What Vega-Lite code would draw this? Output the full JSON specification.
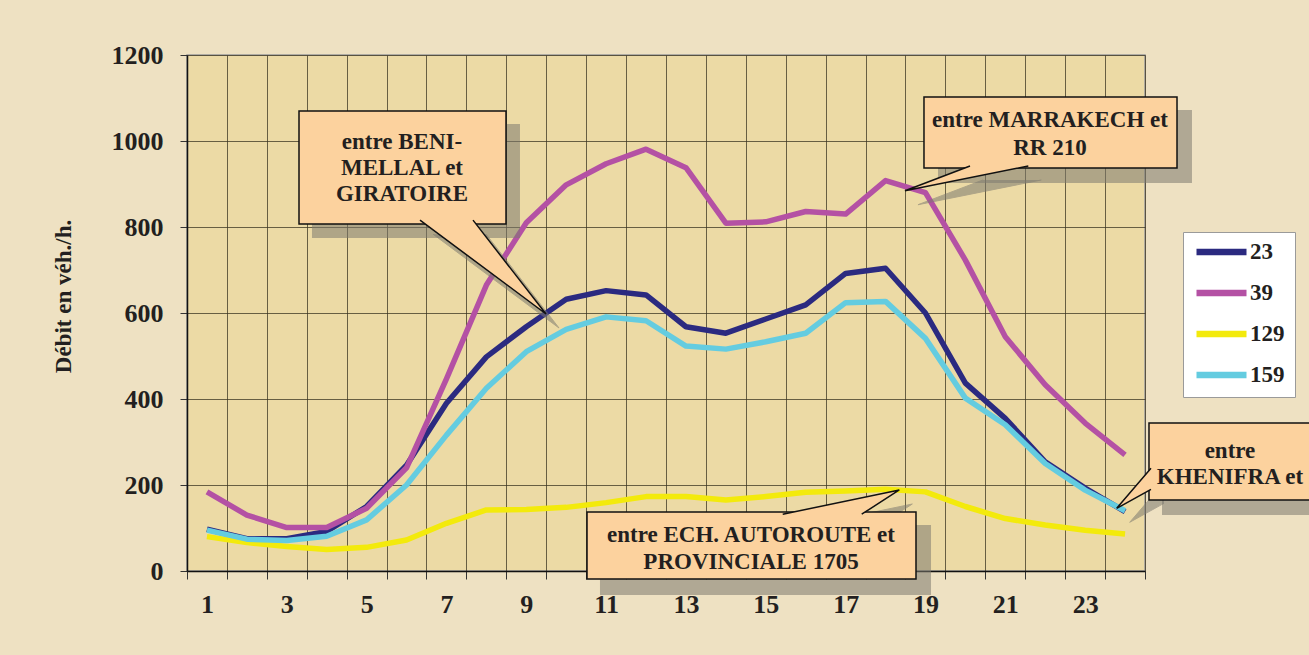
{
  "$schema": "https://vega.github.io/schema/vega-lite/v6.json",
  "width": 958,
  "height": 516,
  "autosize": {"type": "none"},
  "padding": {"left": 187, "top": 55, "right": 164, "bottom": 84},
  "background": "#EEE1C2",
  "config": {
    "view": {"fill": "#ECDAA5", "stroke": "#9a9a9a", "strokeWidth": 1.5},
    "font": "Liberation Serif",
    "text": {"font": "Liberation Serif"}
  },
  "datasets": {
    "flows": [
      {"h":1,"s":"23","v":97},{"h":2,"s":"23","v":75},{"h":3,"s":"23","v":75},{"h":4,"s":"23","v":92},{"h":5,"s":"23","v":150},{"h":6,"s":"23","v":246},{"h":7,"s":"23","v":390},{"h":8,"s":"23","v":498},{"h":9,"s":"23","v":568},{"h":10,"s":"23","v":632},{"h":11,"s":"23","v":652},{"h":12,"s":"23","v":642},{"h":13,"s":"23","v":568},{"h":14,"s":"23","v":553},{"h":15,"s":"23","v":586},{"h":16,"s":"23","v":619},{"h":17,"s":"23","v":692},{"h":18,"s":"23","v":704},{"h":19,"s":"23","v":600},{"h":20,"s":"23","v":437},{"h":21,"s":"23","v":355},{"h":22,"s":"23","v":254},{"h":23,"s":"23","v":193},{"h":24,"s":"23","v":138},
      {"h":1,"s":"39","v":184},{"h":2,"s":"39","v":130},{"h":3,"s":"39","v":101},{"h":4,"s":"39","v":101},{"h":5,"s":"39","v":146},{"h":6,"s":"39","v":240},{"h":7,"s":"39","v":447},{"h":8,"s":"39","v":665},{"h":9,"s":"39","v":810},{"h":10,"s":"39","v":898},{"h":11,"s":"39","v":947},{"h":12,"s":"39","v":981},{"h":13,"s":"39","v":938},{"h":14,"s":"39","v":809},{"h":15,"s":"39","v":812},{"h":16,"s":"39","v":836},{"h":17,"s":"39","v":830},{"h":18,"s":"39","v":908},{"h":19,"s":"39","v":880},{"h":20,"s":"39","v":723},{"h":21,"s":"39","v":545},{"h":22,"s":"39","v":433},{"h":23,"s":"39","v":344},{"h":24,"s":"39","v":270},
      {"h":1,"s":"129","v":80},{"h":2,"s":"129","v":66},{"h":3,"s":"129","v":57},{"h":4,"s":"129","v":50},{"h":5,"s":"129","v":55},{"h":6,"s":"129","v":72},{"h":7,"s":"129","v":111},{"h":8,"s":"129","v":142},{"h":9,"s":"129","v":143},{"h":10,"s":"129","v":148},{"h":11,"s":"129","v":159},{"h":12,"s":"129","v":173},{"h":13,"s":"129","v":173},{"h":14,"s":"129","v":165},{"h":15,"s":"129","v":173},{"h":16,"s":"129","v":183},{"h":17,"s":"129","v":186},{"h":18,"s":"129","v":190},{"h":19,"s":"129","v":184},{"h":20,"s":"129","v":150},{"h":21,"s":"129","v":122},{"h":22,"s":"129","v":107},{"h":23,"s":"129","v":95},{"h":24,"s":"129","v":86},
      {"h":1,"s":"159","v":95},{"h":2,"s":"159","v":74},{"h":3,"s":"159","v":71},{"h":4,"s":"159","v":81},{"h":5,"s":"159","v":119},{"h":6,"s":"159","v":200},{"h":7,"s":"159","v":316},{"h":8,"s":"159","v":425},{"h":9,"s":"159","v":510},{"h":10,"s":"159","v":562},{"h":11,"s":"159","v":591},{"h":12,"s":"159","v":582},{"h":13,"s":"159","v":523},{"h":14,"s":"159","v":516},{"h":15,"s":"159","v":533},{"h":16,"s":"159","v":553},{"h":17,"s":"159","v":624},{"h":18,"s":"159","v":627},{"h":19,"s":"159","v":541},{"h":20,"s":"159","v":402},{"h":21,"s":"159","v":340},{"h":22,"s":"159","v":250},{"h":23,"s":"159","v":188},{"h":24,"s":"159","v":140}
    ],
    "shadows": [
      {"b":"beni","x1":3.631,"x2":8.842,"y1":1039.5,"y2":774.4},
      {"b":"marr","x1":19.314,"x2":25.677,"y1":1072.1,"y2":902.3},
      {"b":"ech","x1":10.846,"x2":19.139,"y1":107.0,"y2":-55.8},
      {"b":"khen","x1":24.926,"x2":29.009,"y1":314.0,"y2":130.2}
    ],
    "boxes": [
      {"b":"beni","x1":3.306,"x2":8.492,"y1":1069.8,"y2":807.0},
      {"b":"marr","x1":18.963,"x2":25.302,"y1":1102.3,"y2":937.2},
      {"b":"ech","x1":10.521,"x2":18.763,"y1":137.2,"y2":-18.6},
      {"b":"khen","x1":24.6,"x2":28.683,"y1":344.2,"y2":165.1}
    ],
    "pointers": [
      {"p":"beni","i":1,"ax":6.337,"ay":816},{"p":"beni","i":2,"ax":9.494,"ay":597.7},{"p":"beni","i":3,"ax":7.665,"ay":816},
      {"p":"marr","i":1,"ax":20.116,"ay":942},{"p":"marr","i":2,"ax":18.487,"ay":884.4},{"p":"marr","i":3,"ax":21.577,"ay":942},
      {"p":"ech","i":1,"ax":15.424,"ay":132},{"p":"ech","i":2,"ax":18.345,"ay":188.4},{"p":"ech","i":3,"ax":17.403,"ay":132},
      {"p":"khen","i":1,"ax":24.65,"ay":238.8},{"p":"khen","i":2,"ax":23.791,"ay":145.8},{"p":"khen","i":3,"ax":24.65,"ay":190.0}
    ],
    "pshadows": [
      {"p":"beni","i":1,"ax":6.663,"ay":783.4},{"p":"beni","i":2,"ax":9.82,"ay":565.1},{"p":"beni","i":3,"ax":7.991,"ay":783.4},
      {"p":"marr","i":1,"ax":20.442,"ay":909.4},{"p":"marr","i":2,"ax":18.813,"ay":851.8},{"p":"marr","i":3,"ax":21.903,"ay":909.4},
      {"p":"ech","i":1,"ax":15.75,"ay":99.4},{"p":"ech","i":2,"ax":18.671,"ay":155.8},{"p":"ech","i":3,"ax":17.729,"ay":99.4},
      {"p":"khen","i":1,"ax":24.976,"ay":206.2},{"p":"khen","i":2,"ax":24.117,"ay":113.2},{"p":"khen","i":3,"ax":24.976,"ay":157.4}
    ],
    "labels": [
      {"t":"entre BENI-","ax":5.886,"ay":997.7},
      {"t":"MELLAL et","ax":5.886,"ay":937.2},
      {"t":"GIRATOIRE","ax":5.886,"ay":876.7},
      {"t":"entre MARRAKECH et","ax":22.12,"ay":1048.8},
      {"t":"RR 210","ax":22.12,"ay":983.7},
      {"t":"entre ECH. AUTOROUTE et","ax":14.629,"ay":83.7},
      {"t":"PROVINCIALE 1705","ax":14.629,"ay":20.9},
      {"t":"entre","ax":26.629,"ay":279.1},
      {"t":"KHENIFRA et","ax":26.629,"ay":218.6}
    ]
  },
  "resolve": {"scale": {"x": "independent"}},
  "layer": [
    {
      "data": {"name": "flows"},
      "mark": {"type": "line", "strokeWidth": 5.5, "strokeJoin": "round"},
      "encoding": {
        "x": {
          "field": "h", "type": "ordinal",
          "scale": {"type": "band", "paddingInner": 0, "paddingOuter": 0},
          "axis": {
            "title": null, "tickBand": "extent", "grid": true,
            "gridColor": "#3b3422", "gridWidth": 1, "gridOpacity": 0.75,
            "labelExpr": "datum.value % 2 == 1 ? datum.label : ''",
            "labelAngle": 0, "labelFont": "Liberation Serif", "labelFontSize": 26,
            "labelFontWeight": "bold", "labelColor": "#231F20", "labelPadding": 12,
            "domainColor": "#111111", "domainWidth": 1.5,
            "tickColor": "#333333", "tickSize": 8, "tickWidth": 1
          }
        },
        "y": {
          "field": "v", "type": "quantitative",
          "scale": {"domain": [0, 1200], "nice": false},
          "axis": {
            "values": [0, 200, 400, 600, 800, 1000, 1200], "format": "d",
            "grid": true, "gridColor": "#3b3422", "gridWidth": 1, "gridOpacity": 0.75,
            "labelFont": "Liberation Serif", "labelFontSize": 26, "labelFontWeight": "bold",
            "labelColor": "#231F20", "labelPadding": 17,
            "domainColor": "#111111", "domainWidth": 1.5,
            "tickColor": "#333333", "tickSize": 7, "tickWidth": 1,
            "title": "Débit en véh./h.", "titleFont": "Liberation Serif", "titleFontSize": 23,
            "titleFontWeight": "bold", "titleColor": "#231F20",
            "titleX": -124, "titleY": 241, "titleBaseline": "middle", "titleAngle": -90
          }
        },
        "color": {
          "field": "s", "type": "nominal",
          "scale": {"domain": ["23", "39", "129", "159"], "range": ["#2B2A80", "#B451A4", "#F3EA0C", "#64CCE0"]},
          "legend": {
            "orient": "none", "legendX": 996, "legendY": 177, "title": null,
            "symbolType": "stroke", "symbolSize": 2500, "symbolStrokeWidth": 6.5,
            "clipHeight": 20, "rowPadding": 18, "padding": 10,
            "labelFont": "Liberation Serif", "labelFontSize": 23, "labelFontWeight": "bold",
            "labelColor": "#231F20", "labelOffset": 0,
            "fillColor": "#ffffff", "strokeColor": "#9a9a9a"
          }
        }
      }
    },
    {
      "data": {"name": "shadows"},
      "mark": {"type": "rect", "fill": "#7d7a70", "opacity": 0.55},
      "encoding": {
        "x": {"field": "x1", "type": "quantitative", "scale": {"domain": [0.5, 24.5], "nice": false, "zero": false}, "axis": null},
        "x2": {"field": "x2"},
        "y": {"field": "y1", "type": "quantitative", "scale": {"domain": [0, 1200], "nice": false}},
        "y2": {"field": "y2"}
      }
    },
    {
      "data": {"name": "pshadows"},
      "mark": {"type": "line", "fill": "#7d7a70", "stroke": "#7d7a70", "strokeWidth": 1, "opacity": 0.55},
      "encoding": {
        "x": {"field": "ax", "type": "quantitative", "scale": {"domain": [0.5, 24.5], "nice": false, "zero": false}, "axis": null},
        "y": {"field": "ay", "type": "quantitative", "scale": {"domain": [0, 1200], "nice": false}},
        "detail": {"field": "p"},
        "order": {"field": "i"}
      }
    },
    {
      "data": {"name": "boxes"},
      "mark": {"type": "rect", "fill": "#FCD29E", "stroke": "#111111", "strokeWidth": 1.5},
      "encoding": {
        "x": {"field": "x1", "type": "quantitative", "scale": {"domain": [0.5, 24.5], "nice": false, "zero": false}, "axis": null},
        "x2": {"field": "x2"},
        "y": {"field": "y1", "type": "quantitative", "scale": {"domain": [0, 1200], "nice": false}},
        "y2": {"field": "y2"}
      }
    },
    {
      "data": {"name": "pointers"},
      "mark": {"type": "line", "fill": "#FCD29E", "stroke": "#111111", "strokeWidth": 1.5, "strokeJoin": "miter"},
      "encoding": {
        "x": {"field": "ax", "type": "quantitative", "scale": {"domain": [0.5, 24.5], "nice": false, "zero": false}, "axis": null},
        "y": {"field": "ay", "type": "quantitative", "scale": {"domain": [0, 1200], "nice": false}},
        "detail": {"field": "p"},
        "order": {"field": "i"}
      }
    },
    {
      "data": {"name": "labels"},
      "mark": {"type": "text", "font": "Liberation Serif", "fontSize": 23, "fontWeight": "bold", "color": "#231F20", "align": "center", "baseline": "middle"},
      "encoding": {
        "x": {"field": "ax", "type": "quantitative", "scale": {"domain": [0.5, 24.5], "nice": false, "zero": false}, "axis": null},
        "y": {"field": "ay", "type": "quantitative", "scale": {"domain": [0, 1200], "nice": false}},
        "text": {"field": "t"}
      }
    }
  ]
}
